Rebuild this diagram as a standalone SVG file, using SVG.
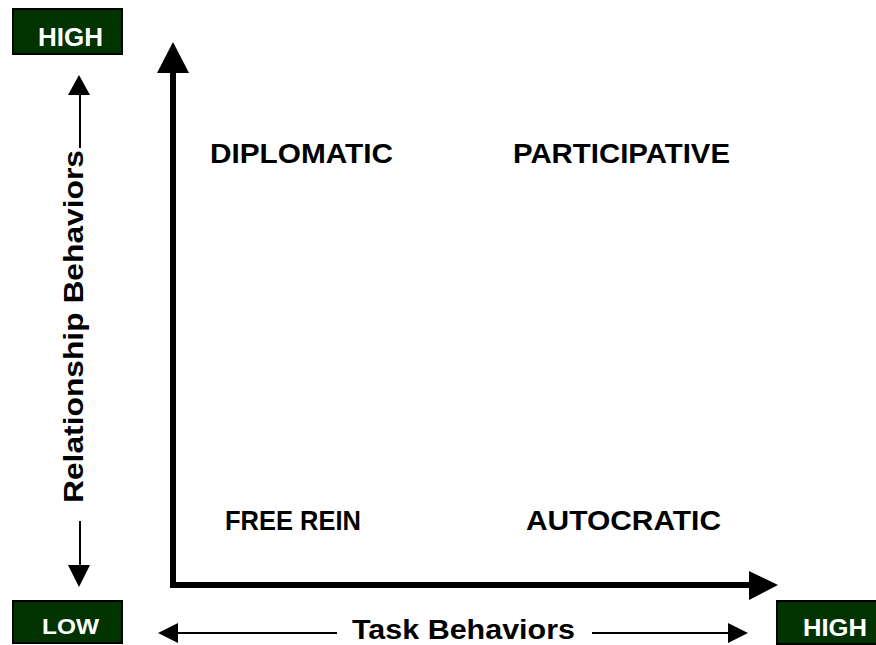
<svg xmlns="http://www.w3.org/2000/svg" width="876" height="645" viewBox="0 0 876 645">
<style>
.box{fill:#003300;stroke:#000;stroke-width:2}
.bt{fill:#fff;font-family:"Liberation Sans",Arial,sans-serif;font-weight:bold;text-anchor:middle}
.lbl{fill:#000;font-family:"Liberation Sans",Arial,sans-serif;font-weight:bold;font-size:28px}
.thin{stroke:#000;stroke-width:2;fill:none}
.thick{stroke:#000;stroke-width:6;fill:none}
.head{fill:#000}
</style>
<rect width="876" height="645" fill="#fff"/>
<g id="high-top">
<rect class="box" x="13" y="9" width="109" height="45"/>
<text class="bt" x="70.5" y="46" font-size="26" textLength="65" lengthAdjust="spacingAndGlyphs">HIGH</text>
</g>
<g id="low">
<rect class="box" x="13" y="601" width="109" height="42"/>
<text class="bt" x="70.5" y="634" font-size="22" textLength="57" lengthAdjust="spacingAndGlyphs">LOW</text>
</g>
<g id="high-right">
<rect class="box" x="777" y="601" width="102" height="43"/>
<text class="bt" x="835" y="636" font-size="23" textLength="64" lengthAdjust="spacingAndGlyphs">HIGH</text>
</g>
<g id="connectors">
<!-- main axes -->
<path class="thick" d="M173,70 V585 H752" stroke-linejoin="miter"/>
<polygon class="head" points="173,42 157,73 189,73"/>
<polygon class="head" points="778,585 749,571 749,600"/>
<!-- relationship axis arrows -->
<line class="thin" x1="80" y1="94" x2="80" y2="148"/>
<polygon class="head" points="79,75 68,95 90,95"/>
<line class="thin" x1="80" y1="521" x2="80" y2="567"/>
<polygon class="head" points="79,587 68,565 90,565"/>
<!-- task axis arrows -->
<line class="thin" x1="175" y1="633" x2="337" y2="633"/>
<polygon class="head" points="158,633 178,623 178,643"/>
<line class="thin" x1="592" y1="633" x2="730" y2="633"/>
<polygon class="head" points="748,633 728,623 728,643"/>
</g>
<g id="diplomatic"><text class="lbl" x="210" y="163" textLength="183" lengthAdjust="spacingAndGlyphs">DIPLOMATIC</text></g>
<g id="participative"><text class="lbl" x="513" y="163" textLength="217" lengthAdjust="spacingAndGlyphs">PARTICIPATIVE</text></g>
<g id="free-rein"><text class="lbl" x="225" y="530" textLength="136" lengthAdjust="spacingAndGlyphs">FREE REIN</text></g>
<g id="autocratic"><text class="lbl" x="526" y="530" textLength="195" lengthAdjust="spacingAndGlyphs">AUTOCRATIC</text></g>
<g id="task-behaviors"><text class="lbl" x="352" y="639" font-size="29" textLength="223" lengthAdjust="spacingAndGlyphs">Task Behaviors</text></g>
<g id="relationship-behaviors"><text class="lbl" transform="translate(83,503) rotate(-90)" x="0" y="0" font-size="29" textLength="353" lengthAdjust="spacingAndGlyphs">Relationship Behaviors</text></g>
</svg>
